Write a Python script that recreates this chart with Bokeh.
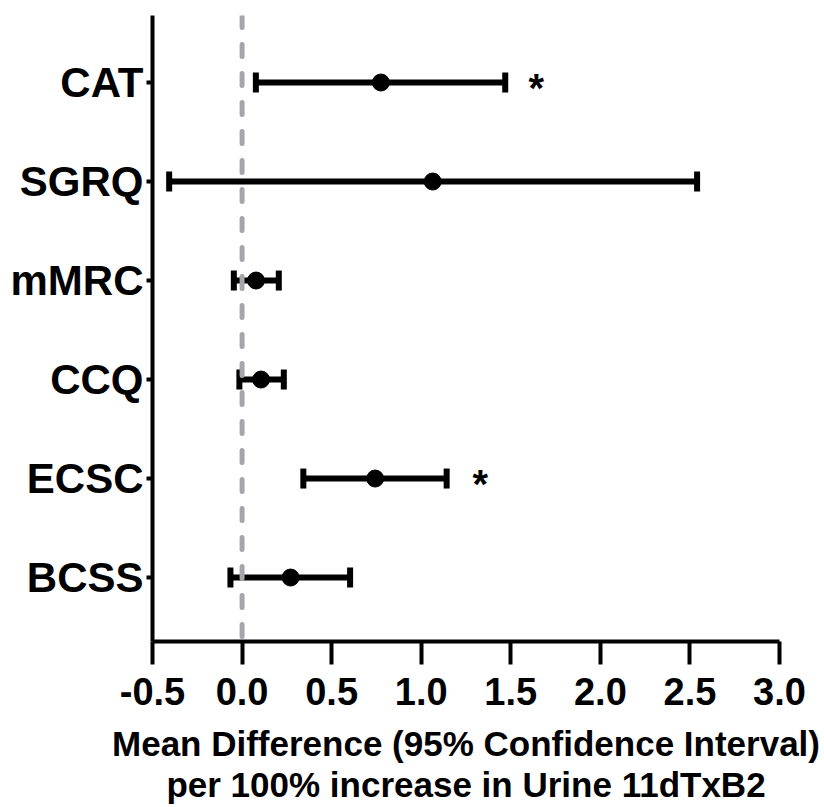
import math
from bokeh.plotting import figure
from bokeh.models import FixedTicker, Span, ColumnDataSource
from bokeh.core.properties import value
from bokeh.embed import file_html
from bokeh.resources import INLINE

# Data
categories = ["CAT", "SGRQ", "mMRC", "CCQ", "ECSC", "BCSS"]
mean_diff = [0.775, 1.064, 0.078, 0.106, 0.743, 0.271]
ci_lower = [0.077, -0.407, -0.046, -0.015, 0.342, -0.065]
ci_upper = [1.469, 2.540, 0.205, 0.233, 1.142, 0.603]
significant = [True, False, False, False, True, False]
star_x = [1.643, None, None, None, 1.330, None]
x_ticks = [-0.5, 0.0, 0.5, 1.0, 1.5, 2.0, 2.5, 3.0]

n = len(categories)
ypos = [n - i for i in range(n)]  # CAT at top

FONT = "Liberation Sans"

p = figure(width=824, height=807, output_backend="svg", toolbar_location=None,
           x_range=(-0.5, 3.0), y_range=(0.354, 6.677),
           min_border_left=152, min_border_right=45, min_border_top=15,
           min_border_bottom=166)
p.outline_line_color = None
p.xgrid.visible = False
p.ygrid.visible = False
p.background_fill_color = "white"
p.border_fill_color = "white"

src = ColumnDataSource(dict(y=ypos, m=mean_diff, lo=ci_lower, hi=ci_upper))

# zero reference line
p.add_layout(Span(location=0, dimension="height", line_color="#a6a6aa",
                  line_width=5, line_dash="12 17", line_cap="round"))

p.segment(x0="lo", x1="hi", y0="y", y1="y", source=src, line_color="black", line_width=6)
p.rect(x="lo", y="y", width=6, height=20, width_units="screen", height_units="screen",
       source=src, fill_color="black", line_color=None)
p.rect(x="hi", y="y", width=6, height=20, width_units="screen", height_units="screen",
       source=src, fill_color="black", line_color=None)
p.scatter(x="m", y="y", source=src, size=17, fill_color="black", line_color="black")

sx = [star_x[i] for i in range(n) if significant[i]]
sy = [ypos[i] for i in range(n) if significant[i]]
p.text(x=sx, y=sy, text=["*"] * len(sx), text_font=value(FONT), text_font_style="bold",
       text_font_size="40px", text_align="center", text_baseline="middle",
       y_offset=5, text_color="black")

# axes
xa = p.xaxis[0]
xa.ticker = FixedTicker(ticks=x_ticks)
xa.major_label_overrides = {t: f"{t:.1f}" for t in x_ticks}
xa.axis_line_width = 4
xa.axis_line_color = "black"
xa.major_tick_line_color = "black"
xa.major_tick_line_width = 4
xa.major_tick_out = 23
xa.major_tick_in = 0
xa.minor_tick_line_color = None
xa.major_label_text_font = FONT
xa.major_label_text_font_style = "bold"
xa.major_label_text_font_size = "38px"
xa.major_label_text_color = "black"
xa.major_label_standoff = 13
xa.axis_label = "Mean Difference (95% Confidence Interval)\nper 100% increase in Urine 11dTxB2"
xa.axis_label_text_font = FONT
xa.axis_label_text_font_style = "bold"
xa.axis_label_text_font_size = "35px"
xa.axis_label_text_line_height = 1.07
xa.axis_label_text_color = "black"
xa.axis_label_standoff = 16

ya = p.yaxis[0]
ya.ticker = FixedTicker(ticks=ypos)
ya.major_label_overrides = {y: c for y, c in zip(ypos, categories)}
ya.axis_line_width = 4
ya.axis_line_color = "black"
ya.major_tick_line_color = "black"
ya.major_tick_line_width = 4
ya.major_tick_out = 6
ya.major_tick_in = 0
ya.minor_tick_line_color = None
ya.major_label_text_font = FONT
ya.major_label_text_font_style = "bold"
ya.major_label_text_font_size = "42px"
ya.major_label_text_color = "black"
ya.major_label_standoff = 3

open("out.html", "w").write(file_html(p, INLINE))
